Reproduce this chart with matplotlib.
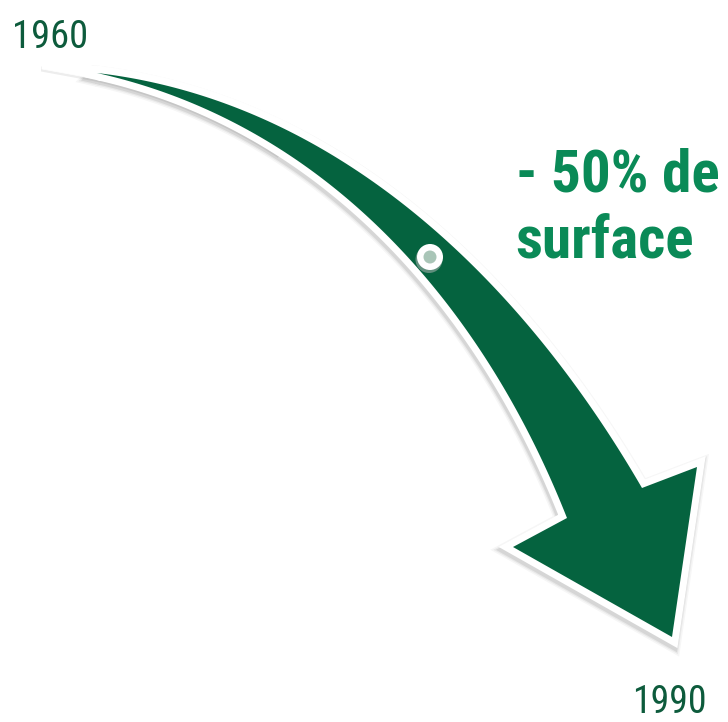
import numpy as np
import matplotlib.pyplot as plt
from matplotlib import font_manager as fm
from matplotlib.patches import Polygon, Circle

# labels of the infographic
start_year = "1960"
end_year = "1990"
change_lines = ["- 50% de", "surface"]

GREEN = "#05633f"
TEXT_GREEN = "#0a8a57"
YEAR_GREEN = "#0d5b3c"


def pick_narrow_font():
    fonts = fm.fontManager.ttflist
    names = {f.name for f in fonts}
    for cand in ["Roboto Condensed", "Liberation Sans Narrow", "Open Sans Condensed",
                 "Noto Sans Condensed", "DejaVu Sans Condensed", "Arial Narrow"]:
        if cand in names:
            return cand, "normal"
    for f in fonts:
        if "condensed" in f.stretch or "Narrow" in f.name or "Condensed" in f.name:
            return f.name, f.stretch
    return "DejaVu Sans", "normal"


FONT, STRETCH = pick_narrow_font()


def fit_curve(pts, n=150, deg=3):
    # smooth least-squares curve through measured edge points
    pts = np.asarray(pts, float)
    d = np.r_[0, np.cumsum(np.hypot(*np.diff(pts, axis=0).T))]
    t = d / d[-1]
    w = np.ones(len(pts))
    w[[0, -1]] = 30
    px = np.polyfit(t, pts[:, 0], deg, w=w)
    py = np.polyfit(t, pts[:, 1], deg, w=w)
    tt = np.linspace(0, 1, n)
    return np.c_[np.polyval(px, tt), np.polyval(py, tt)]


def offset(curve, dist, side):
    g = np.gradient(curve, axis=0)
    g /= np.hypot(g[:, 0], g[:, 1])[:, None]
    nrm = np.c_[g[:, 1], -g[:, 0]] * side
    return curve + nrm * dist


fig = plt.figure(figsize=(7.28, 7.22), dpi=100)
ax = fig.add_axes([0, 0, 1, 1])
ax.set_xlim(0, 728)
ax.set_ylim(722, 0)
ax.axis("off")

# arrow edges (pixel space), tail -> head
outer = fit_curve([(97, 73), (180, 93), (300, 134), (353, 170), (437, 230),
                   (500, 290), (545, 350), (587, 402), (618, 455), (642, 488)])
inner = fit_curve([(97, 73), (180, 105), (280, 150), (340, 193), (397, 232),
                   (437, 290), (473, 350), (510, 400), (540, 460), (567, 518)])
head = np.array([(697, 467), (672, 637), (513, 547)])
arrow = np.vstack([outer, head, inner[::-1]])

# white tail sliver that runs past the green tip
k = 45
tail = np.vstack([[(42, 64)], offset(outer[:k], 7, 1),
                  offset(inner[:k], 6, -1)[::-1], [(42, 69)]])

# soft shadow
for lw, a in [(21, 0.035), (18, 0.05), (15.5, 0.08)]:
    ax.add_patch(Polygon(arrow + [-1, 3], closed=True, fc="none", ec="black",
                         lw=lw * 0.72, alpha=a, joinstyle="miter"))
ax.add_patch(Polygon(tail + [-1, 2.5], closed=True, fc="black", ec="none",
                     alpha=0.07))
# white border
ax.add_patch(Polygon(tail, closed=True, fc="white", ec="white", lw=0.5))
ax.add_patch(Polygon(arrow, closed=True, fc="white", ec="white",
                     lw=14 * 0.72, joinstyle="miter"))
ax.add_patch(Polygon(arrow, closed=True, fc=GREEN, ec="none"))

# marker on the arrow
ax.add_patch(Circle((429, 259.5), 13.5, fc="#bbbbbb", ec="none", alpha=0.5))
ax.add_patch(Circle((430, 257), 13, fc="white", ec="none"))
ax.add_patch(Circle((430, 257), 6.5, fc="#a9c5b7", ec="none"))

renderer = fig.canvas.get_renderer()


def fit_text(x, y, s, width, ha, **kw):
    t = ax.text(x, y, s, fontsize=30, family=FONT, fontstretch=STRETCH,
                va="baseline", ha=ha, **kw)
    w = t.get_window_extent(renderer).width
    t.set_fontsize(30 * width / w)
    return t


fit_text(12, 48, start_year, 76, "left", color=YEAR_GREEN)
fit_text(707, 713, end_year, 75, "right", color=YEAR_GREEN)
t1 = fit_text(516, 192, change_lines[0], 204, "left", color=TEXT_GREEN,
              fontweight="bold")
ax.text(515, 258, change_lines[1], fontsize=t1.get_fontsize(), family=FONT,
        fontstretch=STRETCH, va="baseline", ha="left", color=TEXT_GREEN,
        fontweight="bold")

fig.savefig("out.png", dpi=100, facecolor="white")
